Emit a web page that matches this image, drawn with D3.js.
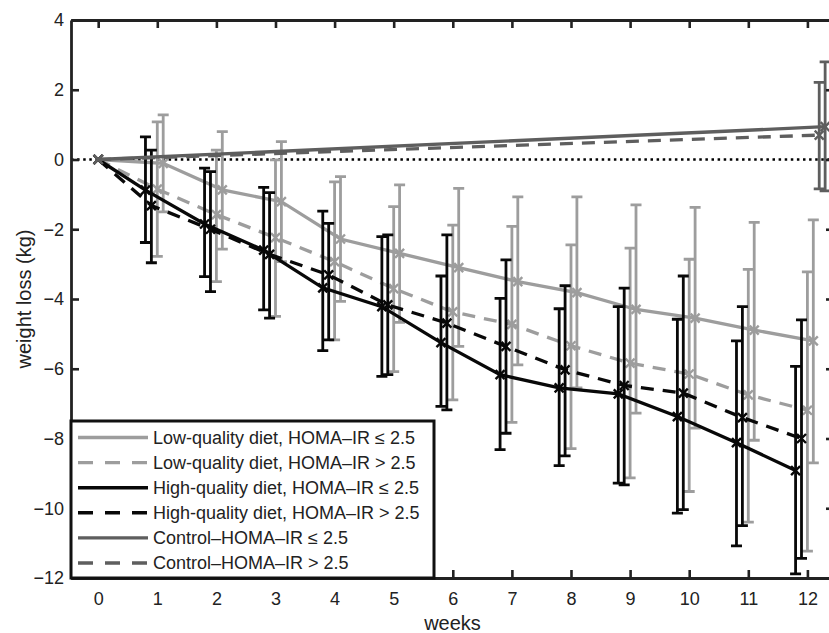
<!DOCTYPE html>
<html>
<head>
<meta charset="utf-8">
<script src="https://cdn.jsdelivr.net/npm/d3@7"></script>
<style>
  body { margin: 0; background: #fff; }
  svg text { font-family: "Liberation Sans", Arial, sans-serif; fill: #222; }
</style>
</head>
<body>
<svg width="829" height="633"></svg>
<script>
// weeks of the trial
const weeks = [0, 1, 2, 3, 4, 5, 6, 7, 8, 9, 10, 11, 12];
const yTicks = [-12, -10, -8, -6, -4, -2, 0, 2, 4];

// low-quality diet, HOMA-IR <= 2.5
const lowLeMean  = [0, -0.11, -0.87, -1.21, -2.28, -2.69, -3.10, -3.50, -3.82, -4.30, -4.55, -4.89, -5.20];
const lowLeUpper = [null, 1.28, 0.80, 0.51, -0.49, -0.73, -0.83, -1.07, -1.07, -1.30, -1.37, -1.80, -1.73];
const lowLeLower = [null, -1.50, -2.57, -2.93, -4.07, -4.67, -5.36, -5.89, -6.55, -7.27, -7.70, -8.05, -8.70];

// low-quality diet, HOMA-IR > 2.5
const lowGtMean  = [0, -0.85, -1.58, -2.24, -2.93, -3.70, -4.37, -4.73, -5.34, -5.84, -6.15, -6.75, -7.19];
const lowGtUpper = [null, 1.08, 0.27, -0.01, -0.64, -1.35, -1.88, -1.92, -2.45, -2.54, -2.86, -3.15, -3.22];
const lowGtLower = [null, -2.78, -3.50, -4.50, -5.17, -6.08, -6.89, -7.54, -8.29, -9.13, -9.52, -10.40, -11.23];

// high-quality diet, HOMA-IR <= 2.5
const highLeMean  = [0, -0.88, -1.85, -2.60, -3.68, -4.22, -5.25, -6.17, -6.55, -6.72, -7.37, -8.12, -8.92];
const highLeUpper = [null, 0.65, -0.25, -0.80, -1.48, -2.21, -3.34, -3.98, -4.28, -4.22, -4.58, -5.20, -5.93];
const highLeLower = [null, -2.38, -3.36, -4.31, -5.48, -6.22, -7.08, -8.32, -8.78, -9.28, -10.14, -11.08, -11.88];

// high-quality diet, HOMA-IR > 2.5
const highGtMean  = [0, -1.32, -2.00, -2.72, -3.31, -4.17, -4.69, -5.36, -6.03, -6.48, -6.70, -7.40, -8.00];
const highGtUpper = [null, 0.27, -0.35, -0.95, -1.83, -2.16, -2.16, -2.88, -3.62, -3.69, -3.34, -4.22, -4.60];
const highGtLower = [null, -2.96, -3.79, -4.55, -5.17, -6.17, -7.18, -7.85, -8.50, -9.33, -10.04, -10.50, -11.44];

// control groups, measured only at start and end
const controlWeeks = [0, 12];
const controlLeMean  = [0, 0.94];
const controlLeUpper = [null, 2.80];
const controlLeLower = [null, -0.90];
const controlGtMean  = [0, 0.70];
const controlGtUpper = [null, 2.21];
const controlGtLower = [null, -0.84];

const legendLabels = [
  'Low-quality diet, HOMA\u2013IR \u2264 2.5',
  'Low-quality diet, HOMA\u2013IR > 2.5',
  'High-quality diet, HOMA\u2013IR \u2264 2.5',
  'High-quality diet, HOMA\u2013IR > 2.5',
  'Control\u2013HOMA\u2013IR \u2264 2.5',
  'Control\u2013HOMA\u2013IR > 2.5'
];

const lightGray = '#9d9d9d', darkGray = '#5e5e5e', black = '#080808';

const series = [
  { x: weeks, mean: lowLeMean, hi: lowLeUpper, lo: lowLeLower, color: lightGray, dash: null, shift: 0.1 },
  { x: weeks, mean: lowGtMean, hi: lowGtUpper, lo: lowGtLower, color: lightGray, dash: '13,9', shift: 0 },
  { x: weeks, mean: highLeMean, hi: highLeUpper, lo: highLeLower, color: black, dash: null, shift: -0.2 },
  { x: weeks, mean: highGtMean, hi: highGtUpper, lo: highGtLower, color: black, dash: '13,9', shift: -0.1 },
  { x: controlWeeks, mean: controlLeMean, hi: controlLeUpper, lo: controlLeLower, color: darkGray, dash: null, shift: 0.3 },
  { x: controlWeeks, mean: controlGtMean, hi: controlGtUpper, lo: controlGtLower, color: darkGray, dash: '13,9', shift: 0.2 }
];

const plotLeft = 71, plotRight = 834, plotTop = 20, plotBottom = 578;
const svg = d3.select('svg');

const xscale = d3.scaleLinear().domain([-0.46, 12.45]).range([plotLeft, plotRight]);
const yscale = d3.scaleLinear().domain([-12, 4]).range([plotBottom, plotTop]);

// zero reference line
svg.append('line')
  .attr('x1', plotLeft).attr('x2', plotRight)
  .attr('y1', yscale(0)).attr('y2', yscale(0))
  .attr('stroke', '#000').attr('stroke-width', 2.6)
  .attr('stroke-dasharray', '2.5,3.6');

const xpos = (s, i) => s.x[i] === 0 ? xscale(0) : xscale(s.x[i] + s.shift);

series.forEach(s => {
  const idx = d3.range(s.x.length);
  const line = d3.line().x(i => xpos(s, i)).y(i => yscale(s.mean[i]));
  const g = svg.append('g').attr('stroke', s.color).attr('fill', 'none');

  g.append('path')
    .attr('d', line(idx))
    .attr('stroke-width', 3.3)
    .attr('stroke-dasharray', s.dash);

  const bars = idx.filter(i => s.hi[i] !== null);
  g.selectAll('.bar').data(bars).join('path')
    .attr('stroke-width', 2.8)
    .attr('d', i => {
      const px = xpos(s, i), y1 = yscale(s.hi[i]), y2 = yscale(s.lo[i]);
      return `M${px},${y1}V${y2}M${px - 5.5},${y1}H${px + 5.5}M${px - 5.5},${y2}H${px + 5.5}`;
    });

  g.selectAll('.mark').data(idx).join('path')
    .attr('stroke-width', 2.4)
    .attr('d', i => {
      const px = xpos(s, i), py = yscale(s.mean[i]);
      return `M${px - 4.5},${py - 4.5}L${px + 4.5},${py + 4.5}M${px - 4.5},${py + 4.5}L${px + 4.5},${py - 4.5}`;
    });
});

// axes, ticks inward on all four sides
const axisStyle = a => {
  a.select('.domain').attr('stroke', '#222').attr('stroke-width', 2.8);
  a.selectAll('.tick line').attr('stroke', '#222').attr('stroke-width', 2.6);
  a.selectAll('.tick text').attr('font-size', 18).attr('fill', '#222');
};

svg.append('g').attr('transform', `translate(0,${plotBottom})`)
  .call(d3.axisBottom(xscale).tickValues(weeks).tickSizeInner(-8).tickSizeOuter(0).tickPadding(14))
  .call(axisStyle);
svg.append('g').attr('transform', `translate(0,${plotTop})`)
  .call(d3.axisTop(xscale).tickValues(weeks).tickSizeInner(-8).tickSizeOuter(0).tickFormat(''))
  .call(axisStyle);
svg.append('g').attr('transform', `translate(${plotLeft},0)`)
  .call(d3.axisLeft(yscale).tickValues(yTicks).tickSizeInner(-8).tickSizeOuter(0).tickPadding(7)
    .tickFormat(d => d < 0 ? '\u2212' + Math.abs(d) : d))
  .call(axisStyle);
svg.append('g').attr('transform', `translate(${plotRight},0)`)
  .call(d3.axisRight(yscale).tickValues(yTicks).tickSizeInner(-8).tickSizeOuter(0).tickFormat(''))
  .call(axisStyle);

// legend
const legend = svg.append('g');
legend.append('rect')
  .attr('x', plotLeft).attr('y', 421).attr('width', 363).attr('height', plotBottom - 421)
  .attr('fill', '#fff').attr('stroke', '#111').attr('stroke-width', 3);

series.forEach((s, i) => {
  const ly = 437.5 + i * 25.1;
  legend.append('line')
    .attr('x1', 78).attr('x2', 148).attr('y1', ly).attr('y2', ly)
    .attr('stroke', s.color).attr('stroke-width', 3.4)
    .attr('stroke-dasharray', s.dash ? '15,12' : null);
  legend.append('text')
    .attr('x', 153).attr('y', ly).attr('dy', '0.36em')
    .attr('font-size', 18)
    .text(legendLabels[i]);
});

// axis titles
svg.append('text')
  .attr('x', (plotLeft + plotRight) / 2).attr('y', 630)
  .attr('text-anchor', 'middle').attr('font-size', 20)
  .text('weeks');

svg.append('text')
  .attr('transform', `translate(31,${(plotTop + plotBottom) / 2}) rotate(-90)`)
  .attr('text-anchor', 'middle').attr('font-size', 20)
  .text('weight loss (kg)');
</script>
</body>
</html>
